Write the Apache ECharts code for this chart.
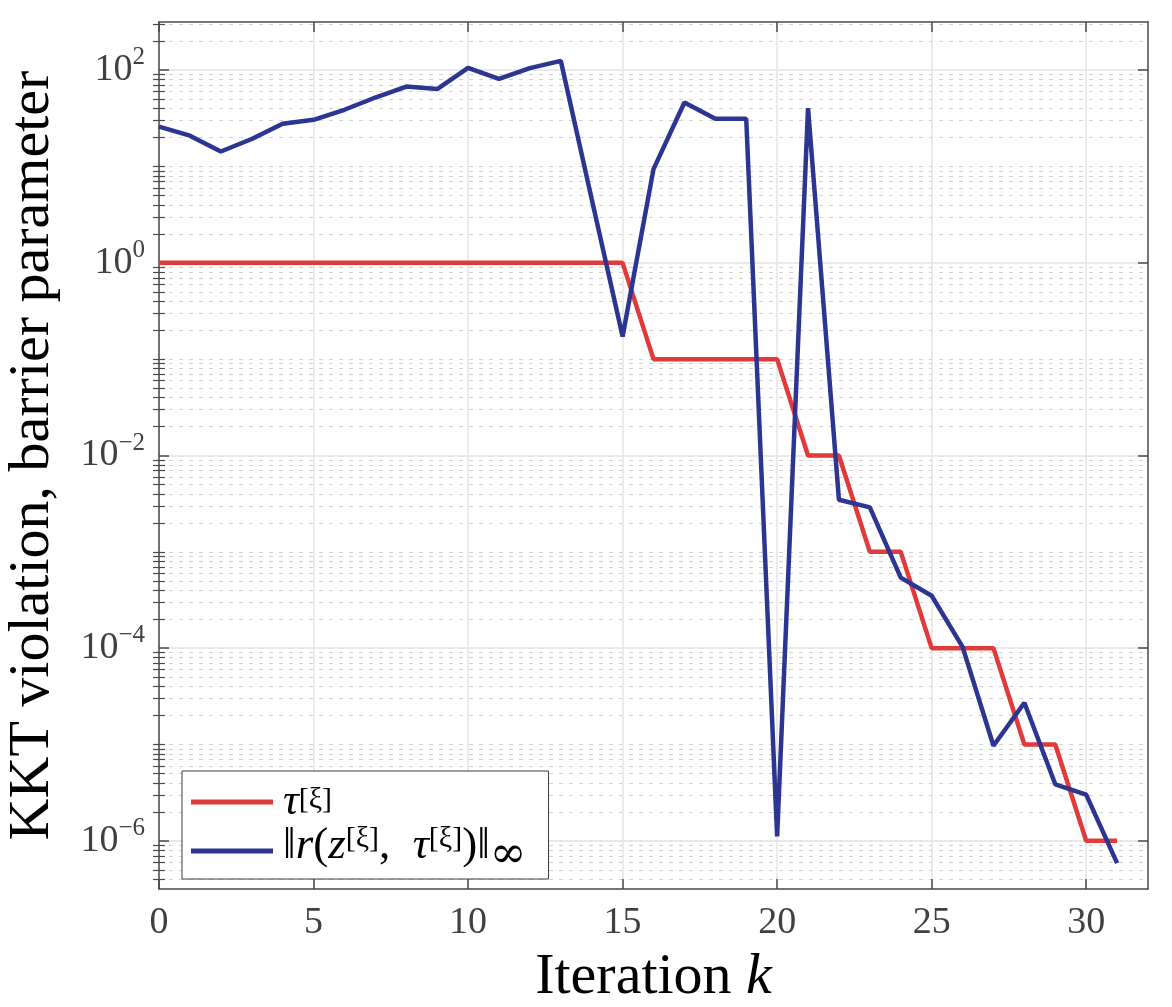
<!DOCTYPE html>
<html><head><meta charset="utf-8">
<script src="https://cdn.jsdelivr.net/npm/echarts@6/dist/echarts.min.js"></script>
<style>html,body{margin:0;padding:0;background:#fff}#c{width:1172px;height:1007px}</style>
</head><body><div id="c"></div>
<script>
// ---- data ----
const iterations = [0,1,2,3,4,5,6,7,8,9,10,11,12,13,14,15,16,17,18,19,20,21,22,23,24,25,26,27,28,29,30,31];
const tau = [1,1,1,1,1,1,1,1,1,1,1,1,1,1,1,1,
             0.1,0.1,0.1,0.1,0.1,
             0.01,0.01,
             1e-3,1e-3,
             1e-4,1e-4,1e-4,
             1e-5,1e-5,
             1e-6,1e-6];
const kktViolation = [25.9,20.9,14.3,19.3,27.8,30.5,38.8,52,67.6,63.6,105.7,81.3,105,125,4.6,0.172,
                      9.4,46.1,31.3,31.3,1.11e-6,40.4,3.47e-3,2.89e-3,5.4e-4,3.5e-4,1.03e-4,9.7e-6,
                      2.71e-5,3.86e-6,3.02e-6,5.86e-7];
const xTickValues = [0,5,10,15,20,25,30];
const yTickExponents = [-6,-4,-2,0,2];
const xRange = [0, 32];
const yExpRange = [-6.5, 2.5];
const seriesNames = ['tau', 'kkt'];

// ---- helpers ----
const FONT = 'Liberation Serif';
const supStr = e => (e < 0 ? '\u2212' + Math.abs(e) : String(e));
const minorExp = [];
for (let n = -7; n <= 2; n++) {
  for (let m = 1; m <= 9; m++) {
    if (m === 1 && n % 2 === 0) continue;
    const v = n + Math.log10(m);
    if (v > yExpRange[0] && v < yExpRange[1]) minorExp.push(v);
  }
}
const toLog = arr => iterations.map((k, i) => [k, Math.log10(arr[i])]);

const axisCol = '#4a4a4a';
const lineAxis = {show: true, onZero: false, lineStyle: {color: axisCol, width: 1.5}};

const chart = echarts.init(document.getElementById('c'), null, {renderer: 'canvas'});
chart.setOption({
  animation: false,
  backgroundColor: '#fff',
  grid: {left: 159, right: 24, top: 22, bottom: 118, containLabel: false, outerBoundsMode: 'none'},
  xAxis: [
    {
      type: 'value', min: xRange[0], max: xRange[1], position: 'bottom',
      axisLine: lineAxis,
      axisTick: {show: true, inside: true, length: 10, customValues: xTickValues, lineStyle: {color: axisCol, width: 1.5}},
      axisLabel: {customValues: xTickValues, margin: 15, fontFamily: FONT, fontSize: 38, color: '#404040'},
      splitLine: {show: true, lineStyle: {color: '#e4e4e4', width: 1.5}},
      name: '{n|Iteration }{i|k}',
      nameLocation: 'middle', nameGap: 60,
      nameTextStyle: {
        rich: {
          n: {fontFamily: FONT, fontSize: 58, color: '#000'},
          i: {fontFamily: FONT, fontSize: 58, fontStyle: 'italic', color: '#000'}
        }
      }
    },
    {
      type: 'value', min: xRange[0], max: xRange[1], position: 'top',
      axisLine: lineAxis,
      axisTick: {show: true, inside: true, length: 10, customValues: xTickValues, lineStyle: {color: axisCol, width: 1.5}},
      axisLabel: {show: false},
      splitLine: {show: false}
    }
  ],
  yAxis: [
    {
      type: 'value', min: yExpRange[0], max: yExpRange[1], position: 'left',
      axisLine: lineAxis,
      axisTick: {show: true, inside: true, length: 10, customValues: yTickExponents, lineStyle: {color: axisCol, width: 1.5}},
      axisLabel: {
        customValues: yTickExponents, margin: 14,
        formatter: v => '{b|10}{s|' + supStr(Math.round(v)) + '}',
        rich: {
          b: {fontFamily: FONT, fontSize: 38, color: '#404040', lineHeight: 50, verticalAlign: 'middle'},
          s: {fontFamily: FONT, fontSize: 25, color: '#404040', lineHeight: 25, verticalAlign: 'top'}
        }
      },
      splitLine: {show: true, lineStyle: {color: '#e2e2e2', width: 1.5}},
      name: 'KKT violation, barrier parameter',
      nameLocation: 'middle', nameGap: 97, nameRotate: 90,
      nameTextStyle: {fontFamily: FONT, fontSize: 58, color: '#000'}
    },
    {
      type: 'value', min: yExpRange[0], max: yExpRange[1], position: 'right',
      axisLine: lineAxis,
      axisTick: {show: true, inside: true, length: 10, customValues: yTickExponents, lineStyle: {color: axisCol, width: 1.5}},
      axisLabel: {show: false},
      splitLine: {show: false}
    },
    {
      type: 'value', min: yExpRange[0], max: yExpRange[1], position: 'left',
      axisLine: {show: false},
      axisTick: {show: true, inside: true, length: 6, customValues: minorExp, lineStyle: {color: axisCol, width: 1.2}},
      axisLabel: {show: false},
      splitLine: {show: true, lineStyle: {color: '#d2d2d2', width: 1, type: [4, 6]}}
    },
    {
      type: 'value', min: yExpRange[0], max: yExpRange[1], position: 'right',
      axisLine: {show: false},
      axisTick: {show: true, inside: true, length: 6, customValues: minorExp, lineStyle: {color: axisCol, width: 1.2}},
      axisLabel: {show: false},
      splitLine: {show: false}
    }
  ],
  legend: {
    left: 182, top: 771, orient: 'vertical',
    icon: 'rect', itemWidth: 82, itemHeight: 5, itemGap: 0,
    padding: [9, 22, 1, 9],
    backgroundColor: '#fff', borderColor: '#3a3a3a', borderWidth: 1, borderRadius: 0,
    textStyle: {
      fontFamily: FONT, fontSize: 44, color: '#000', padding: [0, 0, 0, 5],
      rich: {
        // first entry
        i: {fontFamily: FONT, fontSize: 44, fontStyle: 'italic', color: '#000', lineHeight: 34},
        s: {fontFamily: FONT, fontSize: 30, color: '#000', lineHeight: 30, verticalAlign: 'top'},
        // second entry
        N: {fontFamily: FONT, fontSize: 45, color: '#000', lineHeight: 40, verticalAlign: 'top'},
        I: {fontFamily: FONT, fontSize: 45, fontStyle: 'italic', color: '#000', lineHeight: 40, verticalAlign: 'top'},
        S: {fontFamily: FONT, fontSize: 30, color: '#000', lineHeight: 34, verticalAlign: 'top'},
        U: {fontFamily: 'DejaVu Serif', fontSize: 44, color: '#000', lineHeight: 32, verticalAlign: 'bottom'},
        Z: {fontFamily: FONT, fontSize: 10, lineHeight: 54, verticalAlign: 'middle'}
      }
    },
    formatter: name => name === 'tau'
      ? '{i|\u03c4}{s|[\u03be]}'
      : '{Z|\u200b}{N|\u2016}{I|r}{N|(}{I|z}{S|[\u03be]}{N|,  }{I|\u03c4}{S|[\u03be]}{N|)\u2016}{U|\u221e}'
  },
  series: [
    {
      name: seriesNames[0], type: 'line', xAxisIndex: 0, yAxisIndex: 0,
      data: toLog(tau), symbol: 'none', showSymbol: false,
      lineStyle: {color: '#e03a3a', width: 4.5}, itemStyle: {color: '#e03a3a'}, z: 3
    },
    {
      name: seriesNames[1], type: 'line', xAxisIndex: 0, yAxisIndex: 0,
      data: toLog(kktViolation), symbol: 'none', showSymbol: false,
      lineStyle: {color: '#2c3592', width: 4.5}, itemStyle: {color: '#2c3592'}, z: 4
    }
  ]
});
</script>
</body></html>
